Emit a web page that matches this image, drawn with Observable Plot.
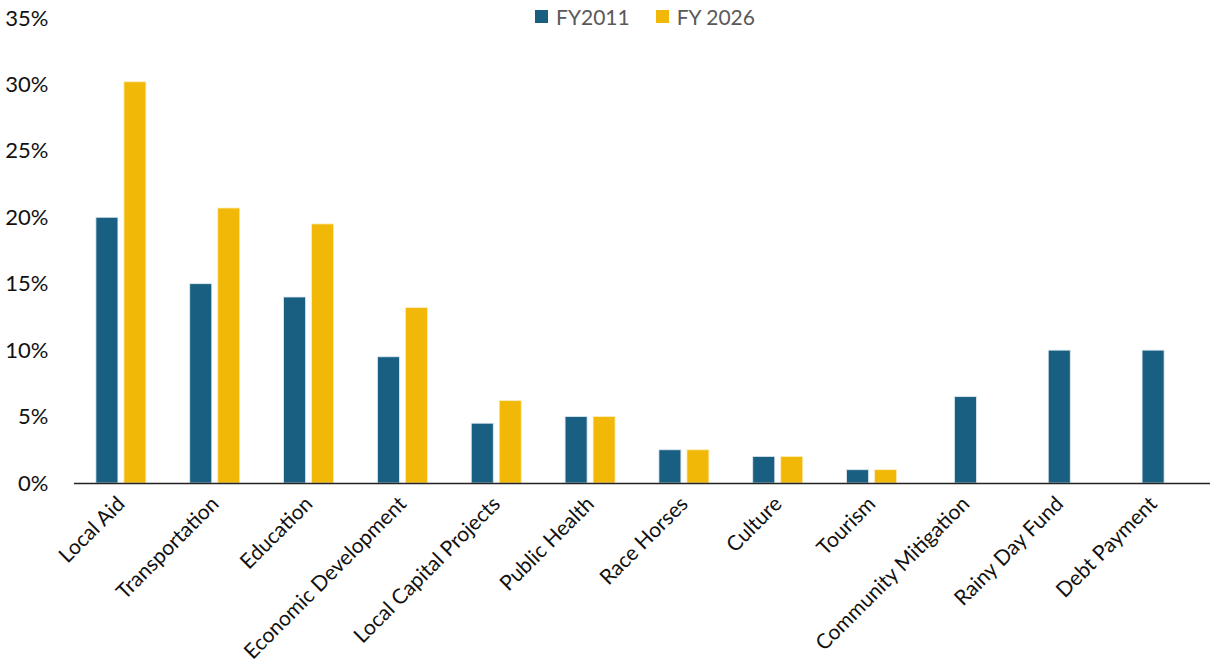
<!DOCTYPE html>
<html>
<head>
<meta charset="utf-8">
<script src="https://cdn.jsdelivr.net/npm/d3@7"></script>
<script src="https://cdn.jsdelivr.net/npm/@observablehq/plot@0.6"></script>
<style>
  html, body { margin: 0; padding: 0; background: #fff; }
  #wrap { position: relative; width: 1212px; height: 670px; font-family: Lato, "Open Sans", sans-serif; }
  #legend { position: absolute; top: 4px; left: 0; width: 1212px; display: flex; justify-content: center; gap: 26px; font-size: 21px; color: #595959; padding-left: 78px; box-sizing: border-box; }
  #legend span.item { display: flex; align-items: center; gap: 8px; }
  #legend span.sw { width: 13px; height: 13px; display: inline-block; }
</style>
</head>
<body>
<div id="wrap"><div id="legend"></div></div>
<script>
const categories = ["Local Aid", "Transportation", "Education", "Economic Development", "Local Capital Projects", "Public Health", "Race Horses", "Culture", "Tourism", "Community Mitigation", "Rainy Day Fund", "Debt Payment"];
const fy2011 = [0.20, 0.15, 0.14, 0.095, 0.045, 0.05, 0.025, 0.02, 0.01, 0.065, 0.10, 0.10];
const fy2026 = [0.302, 0.207, 0.195, 0.132, 0.062, 0.05, 0.025, 0.02, 0.01, null, null, null];
const seriesNames = ["FY2011", "FY 2026"];
const colors = ["#185f82", "#f2b807"];
const yTicks = [0, 0.05, 0.10, 0.15, 0.20, 0.25, 0.30, 0.35];

const paired = [], single = [];
categories.forEach((c, i) => {
  if (fy2026[i] == null) {
    single.push({category: c, series: seriesNames[0], value: fy2011[i]});
  } else {
    paired.push({category: c, series: seriesNames[0], value: fy2011[i]});
    paired.push({category: c, series: seriesNames[1], value: fy2026[i]});
  }
});

const width = 1212, height = 670, mL = 74, mR = 12;
const step = (width - mL - mR) / categories.length;
const half = step / 2, barW = 22, gap = 3;

const chart = Plot.plot({
  width, height,
  marginLeft: mL, marginRight: mR, marginTop: 18, marginBottom: 187,
  style: {fontFamily: "Lato, 'Open Sans', sans-serif", fontSize: "20px", color: "#111"},
  x: {domain: categories, padding: 0, round: false, label: null},
  y: {domain: [0, 0.35], label: null},
  color: {domain: seriesNames, range: colors},
  marks: [
    Plot.axisX({tickSize: 0, tickRotate: -45, tickPadding: 17, fontSize: 21, label: null}),
    Plot.axisY({ticks: yTicks, tickFormat: d3.format(".0%"), tickSize: 0, tickPadding: 26, fontSize: 22, label: null}),
    Plot.barY(paired.filter(d => d.series === seriesNames[0]), {x: "category", y: "value", fill: "series",
      insetLeft: half - gap - barW, insetRight: half + gap, stroke: "#dfe9ef", strokeWidth: 0.8}),
    Plot.barY(paired.filter(d => d.series === seriesNames[1]), {x: "category", y: "value", fill: "series",
      insetLeft: half + gap, insetRight: half - gap - barW, stroke: "#fbeec0", strokeWidth: 0.8}),
    Plot.barY(single, {x: "category", y: "value", fill: "series",
      insetLeft: half - barW / 2, insetRight: half - barW / 2, stroke: "#dfe9ef", strokeWidth: 0.8}),
    Plot.ruleY([0], {stroke: "#222", strokeWidth: 1.6, insetRight: -10})
  ]
});
document.getElementById("wrap").appendChild(chart);

const legend = document.getElementById("legend");
seriesNames.forEach((s, i) => {
  const item = document.createElement("span");
  item.className = "item";
  const sw = document.createElement("span");
  sw.className = "sw";
  sw.style.background = colors[i];
  item.appendChild(sw);
  item.appendChild(document.createTextNode(s));
  legend.appendChild(item);
});
</script>
</body>
</html>
